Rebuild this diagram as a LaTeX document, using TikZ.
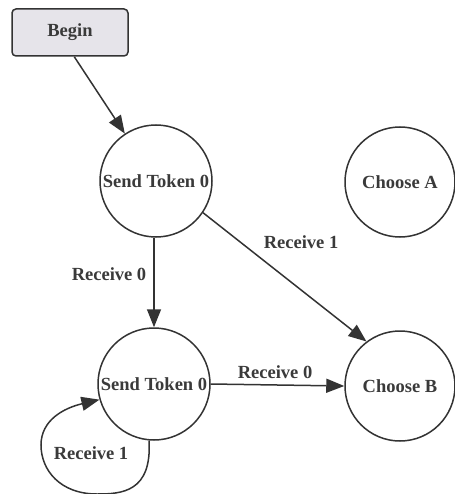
\documentclass[tikz,border=0pt]{standalone}
\usepackage{fontspec}
\setmainfont{Liberation Serif}[BoldFont={Liberation Serif Bold}]
\newfontfamily\timesbold{Liberation Serif Bold}
\usetikzlibrary{arrows.meta}
\definecolor{ink}{HTML}{333333}
\definecolor{txt}{HTML}{3A3A3A}
\definecolor{beginfill}{HTML}{E6E4EA}
\begin{document}
\begin{tikzpicture}[x=1pt,y=-1pt,
  every node/.style={font=\timesbold\fontsize{18.5}{20}\selectfont, text=txt},
  state/.style={circle, draw=ink, line width=1.5pt, minimum size=112pt, inner sep=0pt},
  startbox/.style={rectangle, rounded corners=4pt, draw=ink, line width=1.5pt, fill=beginfill,
                   minimum width=116pt, minimum height=47pt, inner sep=0pt},
  edge/.style={draw=ink, line width=1.5pt, -{Triangle[length=18pt,width=14pt]}},
  elabel/.style={inner sep=0pt}]
\useasboundingbox (0,0) rectangle (454,494);
\node[startbox] (begin) at (70,32.5) {Begin};
\node[state] (s1) at (156,181) {Send Token 0};
\node[state, minimum size=110pt] (cA) at (400,182) {Choose A};
\node[state] (s2) at (154,384) {Send Token 0};
\node[state, minimum size=110pt] (cB) at (400,386) {Choose B};

\draw[edge] (begin.-80) -- (s1);
\draw[edge] (s1.south -| s2) -- (s2.north);
\draw[edge] (s1.-34) -- (cB.127);
\draw[edge] (s2.east) -- (cB.west);
\draw[edge] (s2.265) .. controls (152,492) and (122,494) .. (97,494)
  .. controls (60,494) and (41,470) .. (41,445)
  .. controls (41,420) and (64,408) .. (s2.196);

\node[elabel] (l1) at (109,274) {Receive 0};
\node[elabel] (l2) at (301,242) {Receive 1};
\node[elabel] (l3) at (275,372) {Receive 0};
\node[elabel] (l4) at (91,453) {Receive 1};
\end{tikzpicture}
\end{document}
